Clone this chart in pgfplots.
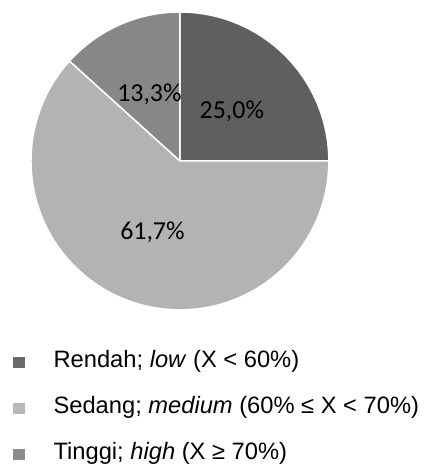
\documentclass[border=0pt]{standalone}
\usepackage{pgfplots}
\pgfplotsset{compat=1.18}
\usepackage{pgfplotstable}
\usepackage{fontspec}
\setmainfont{Liberation Sans}
\newfontfamily\calibri{Carlito}

\pgfplotstableread{
name value
Rendah 25.0
Sedang 61.7
Tinggi 13.3
}\piedata

\definecolor{cRendah}{HTML}{5F5F5F}
\definecolor{cSedang}{HTML}{B3B3B3}
\definecolor{cTinggi}{HTML}{878787}
\definecolor{lRendah}{HTML}{6A6A6A}
\definecolor{lSedang}{HTML}{B8B8B8}
\definecolor{lTinggi}{HTML}{8C8C8C}

\begin{document}
\begin{tikzpicture}
\begin{axis}[hide axis, scale only axis, x=1bp, y=1bp,
  xmin=0, xmax=433, ymin=0, ymax=465, clip=false,
  legend cell align=left,
  legend style={draw=none, fill=none, inner sep=0pt,
    at={(axis cs:13,116)}, anchor=north west,
    font=\fontsize{23.8}{28}\selectfont,
    nodes={inner sep=0pt, text height=18bp, text depth=6bp},
    row sep=22bp, column sep=29bp}]
\path (axis cs:0,0) rectangle (axis cs:433,465);
\pgfplotstablegetelem{0}{value}\of\piedata \let\va\pgfplotsretval
\pgfplotstablegetelem{1}{value}\of\piedata \let\vb\pgfplotsretval
\pgfplotstablegetelem{2}{value}\of\piedata \let\vc\pgfplotsretval
\pgfmathsetmacro\aA{90}
\pgfmathsetmacro\aB{90-3.6*\va}
\pgfmathsetmacro\aC{\aB-3.6*\vb}
\pgfmathsetmacro\aD{\aC-3.6*\vc}
\fill[cRendah, draw=white, line width=1.5bp, line join=round] (axis cs:180,304) -- ++(\aA:149bp) arc[start angle=\aA, end angle=\aB, radius=149bp] -- cycle;
\fill[cSedang, draw=white, line width=1.5bp, line join=round] (axis cs:180,304) -- ++(\aB:149bp) arc[start angle=\aB, end angle=\aC, radius=149bp] -- cycle;
\fill[cTinggi, draw=white, line width=1.5bp, line join=round] (axis cs:180,304) -- ++(\aC:149bp) arc[start angle=\aC, end angle=\aD, radius=149bp] -- cycle;
\node[anchor=base, font=\calibri\fontsize{26}{30}\selectfont, inner sep=0pt] at (axis cs:232,346.7) {25,0\%};
\node[anchor=base, font=\calibri\fontsize{26}{30}\selectfont, inner sep=0pt] at (axis cs:149.5,363.3) {13,3\%};
\node[anchor=base, font=\calibri\fontsize{26}{30}\selectfont, inner sep=0pt] at (axis cs:152.5,225) {61,7\%};

\addlegendimage{legend image code/.code={\fill[lRendah] (0,-6bp) rectangle (11bp,4bp);}}
\addlegendentry{Rendah; \textit{low} (X < 60\%)}
\addlegendimage{legend image code/.code={\fill[lSedang] (0,-6bp) rectangle (11bp,4bp);}}
\addlegendentry{Sedang; \textit{medium} (60\% ≤ X < 70\%)}
\addlegendimage{legend image code/.code={\fill[lTinggi] (0,-6bp) rectangle (11bp,4bp);}}
\addlegendentry{Tinggi; \textit{high} (X ≥ 70\%)}
\end{axis}
\end{tikzpicture}
\end{document}
